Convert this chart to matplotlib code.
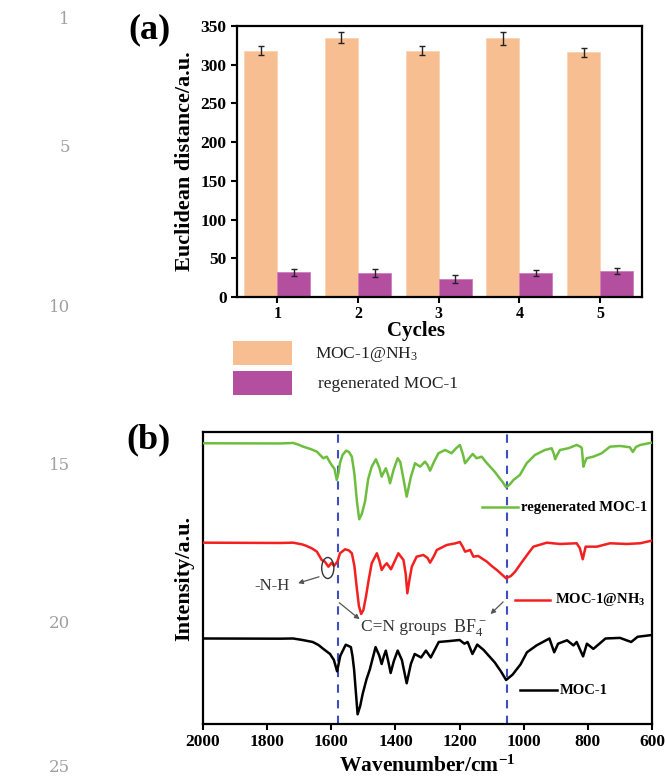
import matplotlib
matplotlib.use('Agg')
import matplotlib.pyplot as plt
from matplotlib.patches import Ellipse, Rectangle
from matplotlib.lines import Line2D

# ---------------- data: panel (a) ----------------
cycles = [1, 2, 3, 4, 5]
moc_nh3 = [318, 335, 318, 334, 316]
moc_nh3_err = [6, 7, 6, 8, 5.5]
moc_regen = [32, 31, 23, 31, 34]
moc_regen_err = [4.5, 5, 5, 3.5, 3.7]
a_yticks = [0, 50, 100, 150, 200, 250, 300, 350]

# ---------------- data: panel (b) IR spectra (offset, a.u.) ----------------
wn_regen = [1999, 1760, 1719, 1700, 1688, 1665, 1645, 1632, 1625, 1614, 1605, 1599, 1590, 1583, 1577,
            1573, 1565, 1554, 1545, 1536, 1528, 1520, 1513, 1505, 1495, 1485, 1474, 1461, 1450, 1443,
            1436, 1430, 1422, 1417, 1405, 1393, 1385, 1375, 1365, 1352, 1339, 1323, 1308, 1300,
            1292, 1280, 1266, 1245, 1225, 1210, 1199, 1190, 1183, 1170, 1159, 1147, 1131, 1118,
            1105, 1090, 1079, 1066, 1055, 1045, 1032, 1012, 991, 965, 934, 913, 906, 902, 896, 887,
            861, 835, 822, 819, 814, 808, 804, 783, 757, 731, 700, 669, 660, 650, 637, 601]
int_regen = [280.7, 280.5, 281, 279, 277.3, 275, 272.3, 268, 265.7, 267.3, 262, 259, 255, 244, 252,
             261, 269, 273.3, 272, 267.3, 250, 222, 204.7, 210, 222.3, 245, 257.3, 264.7, 256, 247.3,
             252, 255.7, 248, 240.7, 255, 265.7, 262, 245, 227.3, 247, 260.7, 257.3, 262.3, 259,
             253.3, 262, 270.7, 274, 270.7, 276, 279, 270, 260.7, 266, 270, 265.7, 267.3, 262,
             257.3, 252, 247.3, 242, 236.7, 239, 244, 249, 260.7, 269, 274, 275.7, 270, 264.7, 269, 274,
             275.7, 279, 277, 275.7, 257.3, 263, 265.7, 267.3, 270.7, 277.3, 278, 276.7, 272, 277, 279, 281.3]

wn_nh3 = [1999, 1760, 1719, 1690, 1677, 1660, 1645, 1630, 1620, 1609, 1599, 1592, 1581, 1573, 1557,
          1545, 1536, 1528, 1521, 1514, 1507, 1500, 1492, 1483, 1474, 1458, 1450, 1443, 1435, 1427,
          1414, 1402, 1391, 1375, 1368, 1363, 1356, 1349, 1334, 1313, 1300, 1292, 1280, 1271, 1240,
          1215, 1199, 1190, 1183, 1167, 1157, 1142, 1115, 1100, 1084, 1070, 1055, 1040, 1027,
          1001, 985, 970, 928, 887, 835, 825, 816, 807, 772, 731, 679, 637, 601]
int_nh3 = [181.3, 181, 181.3, 179.5, 178, 175.5, 172.3, 164, 162.3, 157.3, 161.3, 158, 162.3, 170.7, 174.7,
           173.5, 170.7, 158, 137.3, 118, 110, 114, 127.3, 145, 160.7, 170.7, 163, 154, 158, 160.7,
           154.7, 163, 170.7, 164, 150, 130.7, 145, 157.3, 167.3, 169, 166, 161.3, 168, 174, 179,
           180.5, 182, 177, 172.3, 174, 167.3, 168, 162.3, 158, 154, 150, 145.7, 148, 152.3,
           164, 171, 177.3, 181.3, 180, 180.7, 175.7, 164.7, 177.3, 177.3, 180.7, 180, 180.7, 183.3]

wn_moc = [1999, 1760, 1719, 1690, 1658, 1640, 1625, 1604, 1592, 1582, 1576, 1572, 1555, 1539, 1534,
          1529, 1523, 1518, 1510, 1502, 1490, 1480, 1462, 1450, 1443, 1436, 1430, 1422, 1415, 1405,
          1393, 1380, 1365, 1352, 1340, 1320, 1305, 1290, 1265, 1230, 1200, 1185, 1175, 1160, 1145,
          1125, 1090, 1070, 1055, 1035, 1010, 990, 960, 920, 905, 893, 865, 845, 835, 815, 803, 783,
          745, 700, 665, 645, 600]
int_moc = [85.5, 85.3, 85.5, 84, 82, 79, 75.1, 70, 64, 52.7, 62, 68.2, 79.3, 76.9, 68,
           54.5, 30, 9.7, 18, 30.4, 45, 54.5, 76.9, 68, 60, 68, 73.4, 62, 51, 63,
           73.4, 64, 40.7, 60, 70, 66.5, 73.4, 66.5, 82, 83, 84, 80.3, 82, 70, 79.4,
           74, 61.4, 52, 44, 49.3, 59.6, 71.7, 78.6, 85.5, 71.7, 80.3, 83.7, 78.6, 82, 67.6, 80.3, 75.1,
           85.5, 86.1, 82, 87.2, 89]
b_xticks = [2000, 1800, 1600, 1400, 1200, 1000, 800, 600]
marker_wn = [1580, 1052]
line_numbers = ['1', '5', '10', '15', '20', '25']

SERIF = ['Liberation Serif', 'DejaVu Serif']
plt.rcParams['font.family'] = SERIF
plt.rcParams['mathtext.fontset'] = 'custom'
plt.rcParams['mathtext.rm'] = 'Liberation Serif'
plt.rcParams['mathtext.it'] = 'Liberation Serif:italic'
plt.rcParams['mathtext.bf'] = 'Liberation Serif:bold'

fig = plt.figure(figsize=(6.65, 7.79), dpi=100)


def fx(px):
    return px / 665.0


def fy(py):
    return 1 - py / 779.0


# ---------------- panel (a) ----------------
orange = '#F7BE91'
purple = '#B44FA0'
ax = fig.add_axes([0.3564, 0.6187, 0.609, 0.3479])
w = 0.41
xo = [c - w / 2 for c in cycles]
xp = [c + w / 2 for c in cycles]
ax.bar(xo, moc_nh3, width=w, color=orange, edgecolor='#FBD3B3', linewidth=0.6,
       yerr=moc_nh3_err, error_kw=dict(ecolor='#222222', elinewidth=1.0, capsize=2.5, capthick=1.0))
ax.bar(xp, moc_regen, width=w, color=purple, edgecolor='#D07CC0', linewidth=0.6,
       yerr=moc_regen_err, error_kw=dict(ecolor='#222222', elinewidth=1.0, capsize=2.5, capthick=1.0))
ax.set_xlim(0.5, 5.52)
ax.set_ylim(0, 350)
ax.set_yticks(a_yticks)
ax.set_xticks(cycles)
ax.tick_params(axis='y', direction='out', length=4.5, width=1.5, labelsize=12.5, pad=3)
ax.tick_params(axis='x', direction='out', length=4.5, width=1.5, labelsize=11.5, pad=2)
for lab in ax.get_xticklabels() + ax.get_yticklabels():
    lab.set_fontweight('bold')
for s in ax.spines.values():
    s.set_linewidth(1.6)
ax.set_ylabel('Euclidean distance/a.u.', fontsize=16, fontweight='bold', labelpad=4)
fig.text(fx(416), fy(331), 'Cycles', fontsize=15, fontweight='bold', ha='center', va='center')

# legend for (a) (figure coordinates)
fig.patches.append(Rectangle((fx(232.5), fy(365)), fx(59), 24 / 779.0, transform=fig.transFigure,
                             facecolor=orange, edgecolor='none'))
fig.patches.append(Rectangle((fx(232.5), fy(395)), fx(59), 24 / 779.0, transform=fig.transFigure,
                             facecolor=purple, edgecolor='none'))
fig.text(fx(315), fy(354), 'MOC-1@NH$_3$', fontsize=12.5, va='center', ha='left', color='#222222')
fig.text(fx(318), fy(384), 'regenerated MOC-1', fontsize=12.5, va='center', ha='left', color='#222222')
fig.text(fx(149), fy(30), '(a)', fontsize=26, fontweight='bold', ha='center', va='center')

# ---------------- panel (b) ----------------
bx = fig.add_axes([0.3053, 0.0706, 0.6752, 0.3749])
for wv in marker_wn:
    bx.axvline(wv, color='#3C4FC0', lw=1.5, dashes=(4, 3.5), zorder=1)
bx.plot(wn_regen, int_regen, color='#6DBE3E', lw=1.8, zorder=3)
bx.plot(wn_nh3, int_nh3, color='#F42020', lw=1.8, zorder=3)
bx.plot(wn_moc, int_moc, color='black', lw=1.8, zorder=3)
bx.set_xlim(2000, 600)
bx.set_ylim(0, 292)
bx.set_xticks(b_xticks)
bx.set_yticks([])
bx.tick_params(axis='x', direction='out', length=4, width=1.5, labelsize=12.5, pad=3)
for lab in bx.get_xticklabels():
    lab.set_fontweight('bold')
for s in bx.spines.values():
    s.set_linewidth(1.6)
bx.set_xlabel('Wavenumber/cm$^{\\mathbf{-1}}$', fontsize=15.5, fontweight='bold', labelpad=4)
bx.set_ylabel('Intensity/a.u.', fontsize=16, fontweight='bold', labelpad=6)

# legends (axes fraction)
for (x0, x1, yy, col, txt, tx) in [
        (0.6207, 0.7022, 0.742, '#6DBE3E', 'regenerated MOC-1', 0.708),
        (0.695, 0.773, 0.4247, '#F42020', 'MOC-1@NH$_\\mathbf{3}$', 0.784),
        (0.705, 0.789, 0.1164, 'black', 'MOC-1', 0.795)]:
    bx.add_line(Line2D([x0, x1], [yy, yy], transform=bx.transAxes, color=col, lw=1.8, zorder=4))
    bx.text(tx, yy, txt, transform=bx.transAxes, fontsize=10.5, fontweight='bold', va='center', ha='left')

# annotations
gray = '#555555'
bx.add_patch(Ellipse((1611, 156), 38, 21, fill=False, edgecolor='#333333', lw=1.0, zorder=5))
bx.annotate('', xy=(1712, 140), xytext=(1630, 148),
            arrowprops=dict(arrowstyle='-|>', color=gray, lw=0.9, mutation_scale=7))
bx.text(1786, 138, '-N-H', fontsize=12, color='#333333', ha='center', va='center')
bx.annotate('', xy=(1505, 103), xytext=(1582, 123),
            arrowprops=dict(arrowstyle='-|>', color=gray, lw=0.9, mutation_scale=7))
bx.text(1373, 97, 'C=N groups', fontsize=12.5, color='#333333', ha='center', va='center')
bx.annotate('', xy=(1110, 108), xytext=(1058, 124),
            arrowprops=dict(arrowstyle='-|>', color=gray, lw=0.9, mutation_scale=7))
bx.text(1167, 96, 'BF$_4^{\\,-}$', fontsize=13, color='#333333', ha='center', va='center')
fig.text(fx(149), fy(440), '(b)', fontsize=26, fontweight='bold', ha='center', va='center')

# manuscript line numbers
for lab, py in zip(line_numbers, [20, 148, 307, 465, 623, 768]):
    fig.text(fx(70), fy(py), lab, fontsize=12, color='#A0A0A0', ha='right', va='center',
             family=['DejaVu Serif'])

fig.savefig('out.png', dpi=100)
